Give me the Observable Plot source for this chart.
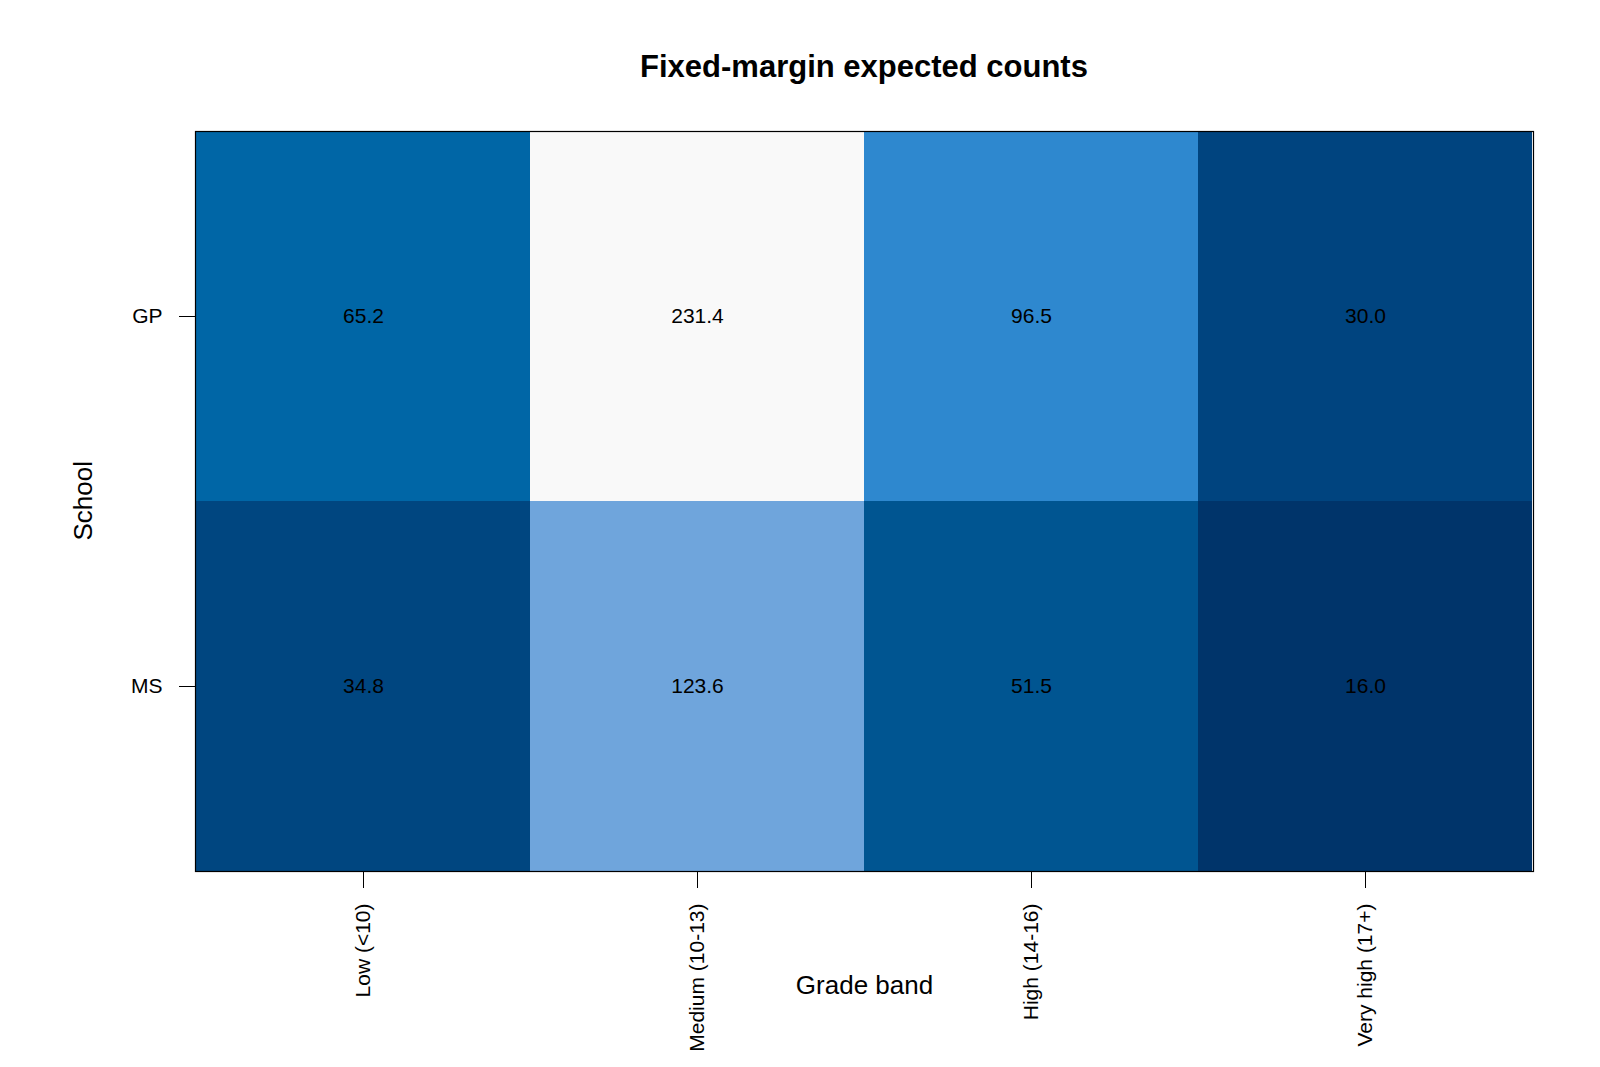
<!DOCTYPE html>
<html>
<head>
<meta charset="utf-8">
<script src="https://cdn.jsdelivr.net/npm/d3@7"></script>
<script src="https://cdn.jsdelivr.net/npm/@observablehq/plot@0.6"></script>
<style>
  html, body { margin: 0; padding: 0; background: #fff; }
  #wrap { position: relative; width: 1600px; height: 1067px; font-family: "Liberation Sans", Arial, sans-serif; }
  #title { position: absolute; left: 0; top: 51px; width: 1728px; text-align: center; font-size: 31px; font-weight: bold; color: #000; line-height: 32px; }
  #chart { position: absolute; left: 0; top: 0; }
</style>
</head>
<body>
<div id="wrap">
  <div id="chart"></div>
  <div id="title">Fixed-margin expected counts</div>
</div>
<script>
const grades = ["Low (<10)", "Medium (10-13)", "High (14-16)", "Very high (17+)"];
const schools = ["GP", "MS"];
const gpValues = [65.2, 231.4, 96.5, 30.0];
const msValues = [34.8, 123.6, 51.5, 16.0];

// colour anchors (dark to light), matched to sorted values
const colorAnchorsValues = [16.0, 30.0, 34.8, 51.5, 65.2, 96.5, 123.6, 231.4];
const colorAnchors = ["#00346A", "#00447F", "#004680", "#005591", "#0066A6", "#2E88CF", "#6FA5DC", "#F9F9F9"];

const data = [];
grades.forEach((g, i) => {
  data.push({grade: g, school: "GP", value: gpValues[i]});
  data.push({grade: g, school: "MS", value: msValues[i]});
});

const plot = Plot.plot({
  width: 1600,
  height: 1067,
  marginLeft: 195,
  marginRight: 67,
  marginTop: 131,
  marginBottom: 196,
  style: {fontFamily: "Liberation Sans, Arial, sans-serif", fontSize: "21px", color: "#000", background: "#fff"},
  x: {domain: grades, padding: 0, label: null},
  y: {domain: schools, padding: 0, label: null},
  color: {type: "linear", domain: colorAnchorsValues, range: colorAnchors, interpolate: "rgb"},
  marks: [
    Plot.cell(data, {x: "grade", y: "school", fill: "value", inset: 0}),
    Plot.text(data, {x: "grade", y: "school", text: d => d.value.toFixed(1), fontSize: 21, fill: "#000"}),
    Plot.frame({stroke: "#000", strokeWidth: 1.2}),
    Plot.axisX({tickSize: 17, tickPadding: 15, tickRotate: -90, fontSize: 21, label: null, stroke: "#000"}),
    Plot.axisY({tickSize: 16, tickPadding: 17, fontSize: 21, label: null, stroke: "#000"}),
    Plot.text(["Grade band"], {frameAnchor: "bottom", dy: 114, lineAnchor: "middle", fontSize: 26, fill: "#000"}),
    Plot.text(["School"], {frameAnchor: "left", dx: -112, dy: 39, rotate: -90, lineAnchor: "middle", fontSize: 26, fill: "#000"})
  ]
});
document.getElementById("chart").appendChild(plot);
</script>
</body>
</html>
